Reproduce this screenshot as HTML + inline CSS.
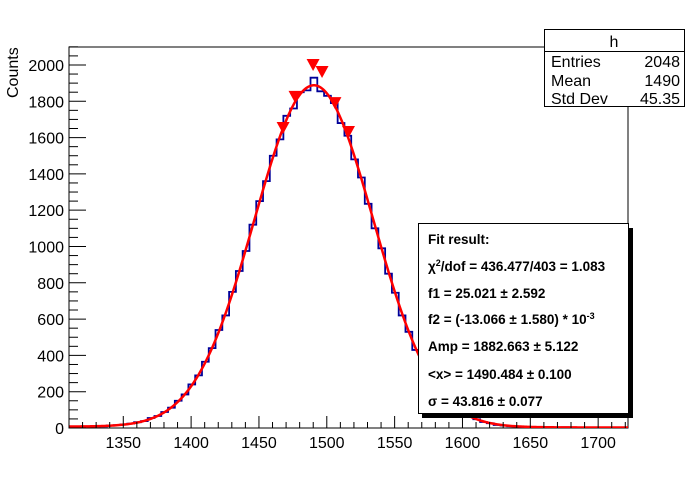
<!DOCTYPE html>
<html><head><meta charset="utf-8"><style>
body{margin:0;background:#fff;width:698px;height:476px;overflow:hidden}
svg{font-family:"Liberation Sans",sans-serif}
</style></head><body>
<svg id="c" width="698" height="476" xmlns="http://www.w3.org/2000/svg"></svg>
<script>
// data
const binStart = 1308, binWidth = 5;
const counts = [8,9,7,9,10,9,14,16,20,24,32,38,55,66,88,112,150,185,240,290,365,440,540,620,750,865,975,1120,1250,1360,1500,1590,1720,1760,1850,1860,1930,1855,1830,1790,1680,1610,1480,1380,1235,1100,990,850,745,620,530,430,360,280,235,175,145,105,85,62,48,33,26,17,14,10,9,6,5,6,4,4,3,4,2,3,3,2,3,2,2,2,2,1];
const fitParams = [25.021, -13.066e-3, 1882.663, 1490.484, 43.816];
const peakX = [1467.8,1476.6,1489.9,1496.5,1506,1516];
const peakY = [1653,1824,2000,1961,1790,1631];
const yTicks = [0,200,400,600,800,1000,1200,1400,1600,1800,2000];
const xTicks = [1350,1400,1450,1500,1550,1600,1650,1700];

const L=69,R=628,T=47,B=428, XMIN=1310, XMAX=1722, YMAX=2099;
const sx=v=>L+(v-XMIN)/(XMAX-XMIN)*(R-L);
const sy=v=>B-v/YMAX*(B-T);
const svg=document.getElementById('c');
const NS='http://www.w3.org/2000/svg';
function mk(tag,attrs,txt){const e=document.createElementNS(NS,tag);for(const k in attrs)e.setAttribute(k,attrs[k]);if(txt!==undefined)e.textContent=txt;svg.appendChild(e);return e;}

let e;
e=mk('rect',{x:L,y:T,width:R-L,height:B-T,fill:'#fff',stroke:'#000','stroke-width':1});



const defs=mk('defs',{});
const cp=document.createElementNS(NS,'clipPath');cp.setAttribute('id','cl');
const cr=document.createElementNS(NS,'rect');cr.setAttribute('x',L);cr.setAttribute('y',T);cr.setAttribute('width',R-L);cr.setAttribute('height',B-T);
cp.appendChild(cr);defs.appendChild(cp);

let d='M'+sx(binStart)+' '+sy(0);
counts.forEach((c,i)=>{const x0=sx(binStart+i*binWidth),x1=sx(binStart+(i+1)*binWidth);d+=' L'+x0+' '+sy(c)+' L'+x1+' '+sy(c);});
e=mk('path',{d:d,fill:'none',stroke:'#000099','stroke-width':1.8,'clip-path':'url(#cl)'});



function fit(x){const p=fitParams;return p[0]+p[1]*x+p[2]*Math.exp(-0.5*Math.pow((x-p[3])/p[4],2));}
let fd='';
for(let x=XMIN;x<=XMAX;x+=1){fd+=(x===XMIN?'M':' L')+sx(x).toFixed(2)+' '+sy(fit(x)).toFixed(2);}
e=mk('path',{d:fd,fill:'none',stroke:'#ff0000','stroke-width':2.5,'clip-path':'url(#cl)'});



peakX.forEach((px,i)=>{const x=sx(px),y=sy(peakY[i]);
 const m=mk('polygon',{points:`${x-6.5},${y-6} ${x+6.5},${y-6} ${x},${y+6}`,fill:'#ff0000'});
 
 });

for(let v=0;v<=2100;v+=50){const y=sy(v);const maj=v%200===0;
 mk('line',{x1:L,x2:L+(maj?17:9),y1:y,y2:y,stroke:'#000','stroke-width':1});}
yTicks.forEach(v=>{const t=mk('text',{x:64,y:sy(v)+6,'text-anchor':'end','font-size':16},String(v));
 
 });
for(let v=1310;v<=1720;v+=10){const x=sx(v);const maj=v%50===0;
 mk('line',{x1:x,x2:x,y1:B,y2:B-(maj?12:6),stroke:'#000','stroke-width':1});}
xTicks.forEach(v=>{const t=mk('text',{x:sx(v),y:448,'text-anchor':'middle','font-size':16},String(v));
 
 });

e=mk('text',{x:0,y:0,transform:'translate(18,98) rotate(-90)','font-size':16},'Counts');



e=mk('rect',{x:544.5,y:29.5,width:140,height:77,fill:'#fff',stroke:'#000','stroke-width':1});


mk('line',{x1:544.5,x2:684.5,y1:51.5,y2:51.5,stroke:'#000','stroke-width':1});
mk('text',{x:614,y:47,'text-anchor':'middle','font-size':16},'h');
[['Entries','2048',67],['Mean','1490',86],['Std Dev','45.35',104]].forEach(r=>{
 const a=mk('text',{x:551,y:r[2],'font-size':16},r[0]);
 
 
 const b=mk('text',{x:680,y:r[2],'text-anchor':'end','font-size':16},r[1]);
 
 });

mk('rect',{x:422,y:228,width:211,height:190,fill:'#000'});
e=mk('rect',{x:418.5,y:223.5,width:210,height:190,fill:'#fff',stroke:'#000','stroke-width':1});


const fitLines=[['Fit result:',244],['χ<tspan baseline-shift="super" font-size="9">2</tspan>/dof = 436.477/403 = 1.083',271],['f1 = 25.021 ± 2.592',298],['f2 = (-13.066 ± 1.580) * 10<tspan baseline-shift="super" font-size="9">-3</tspan>',324],['Amp = 1882.663 ± 5.122',351],['&lt;x&gt; = 1490.484 ± 0.100',379],['σ = 43.816 ± 0.077',406]];
fitLines.forEach(l=>{const t=mk('text',{x:428,y:l[1],'font-size':13.5,'font-weight':'bold'});t.innerHTML=l[0];
 
 });
</script>
</body></html>
